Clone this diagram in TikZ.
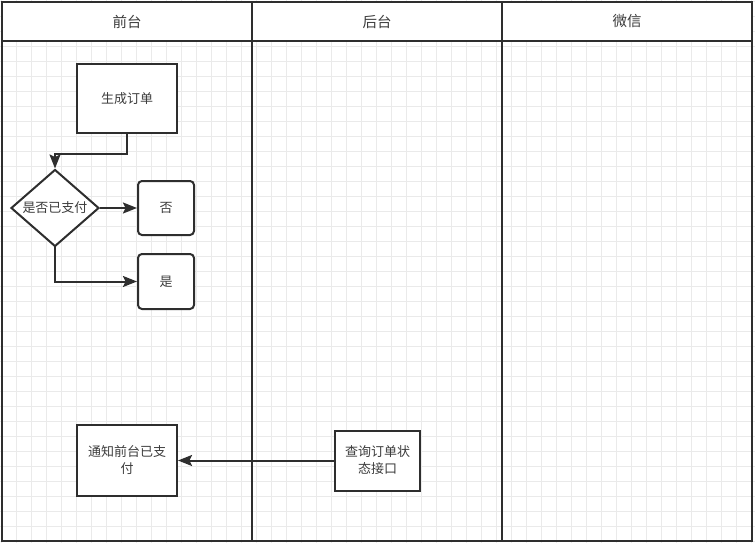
\documentclass[tikz,border=0pt]{standalone}
\usepackage{fontspec}
\newfontfamily\cjk{Noto Sans CJK SC}
\usetikzlibrary{arrows.meta,shapes.geometric}
\definecolor{ink}{HTML}{2E2E2E}
\definecolor{txt}{HTML}{3C3C3C}
\definecolor{gridc}{HTML}{EAEAEA}
\tikzset{
  gridline/.style={draw=gridc,line width=0.8pt},
  frame/.style={draw=ink,line width=2.2pt},
  hdr/.style={frame,fill=white,minimum width=250pt,minimum height=39pt,inner sep=0pt,
    font=\cjk\fontsize{14.5}{16}\selectfont,text=txt},
  box/.style={draw=ink,line width=2pt,fill=white,inner sep=2pt,align=center,
    font=\cjk\fontsize{13}{17}\selectfont,text=txt},
  rbox/.style={box,rounded corners=4pt},
  decision/.style={box,diamond,inner sep=0pt,minimum width=88pt,minimum height=74pt},
  conn/.style={draw=ink,line width=2pt,-{Stealth[length=14pt,width=11pt,inset=2.5pt]}},
}
\begin{document}
\begin{tikzpicture}[x=1pt,y=-1pt]
\useasboundingbox (0,0) rectangle (755,543);
% background grid
\foreach \i in {0,...,50} {\draw[gridline] (1.7+15*\i,0) -- (1.7+15*\i,543);}
\foreach \j in {0,...,36} {\draw[gridline] (0,1.7+15*\j) -- (755,1.7+15*\j);}
% lanes
\draw[frame] (2,41) rectangle (252,541);
\draw[frame] (252,41) rectangle (502,541);
\draw[frame] (502,41) rectangle (752,541);
\node[hdr] (h1) at (127,21.5) {前台};
\node[hdr] (h2) at (377,21.5) {后台};
\node[hdr] (h3) at (627,21.5) {微信};
% nodes
\node[box,minimum width=100pt,minimum height=69pt] (gen) at (127,98.5) {生成订单};
\node[decision] (dia) at (55,208) {是否已支付};
\node[rbox,minimum width=56pt,minimum height=54pt] (no) at (166,208) {否};
\node[rbox,minimum width=56pt,minimum height=55pt] (yes) at (166,281.5) {是};
\node[box,minimum width=100pt,minimum height=71pt] (notify) at (127,460.5) {通知前台已支\\付};
\node[box,minimum width=85pt,minimum height=60pt] (query) at (377.5,460.5) {查询订单状\\态接口};
% connectors
\draw[conn] (gen.south) -- ++(0,20) -| (dia.north);
\draw[conn] (dia.east) -- (no.west);
\draw[conn] (dia.south) |- (yes.west);
\draw[conn] (query.west) -- (query.west -| notify.east);
\end{tikzpicture}
\end{document}
